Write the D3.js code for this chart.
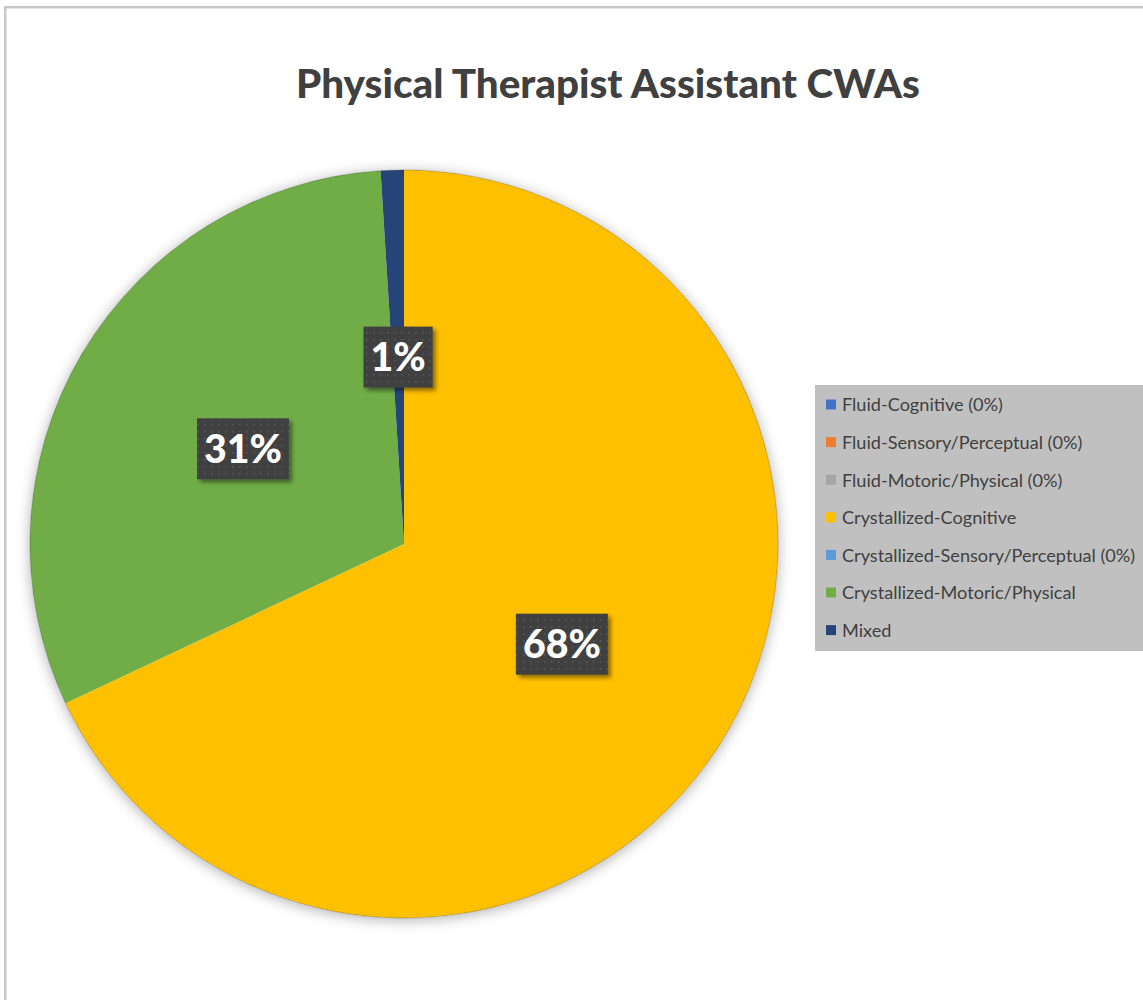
<!DOCTYPE html>
<html>
<head>
<meta charset="utf-8">
<script src="https://cdn.jsdelivr.net/npm/d3@7"></script>
<style>
  html, body { margin: 0; padding: 0; background: #fff; }
  svg { display: block; }
</style>
</head>
<body>
<svg id="chart" width="1143" height="1000"></svg>
<script>
// Cognitive work activity categories, in series order
const categories = [
  "Fluid-Cognitive",
  "Fluid-Sensory/Perceptual",
  "Fluid-Motoric/Physical",
  "Crystallized-Cognitive",
  "Crystallized-Sensory/Perceptual",
  "Crystallized-Motoric/Physical",
  "Mixed"
];
// Share of CWAs per category (percent)
const shares = [0, 0, 0, 68, 0, 31, 1];
// Legend entries (zero categories carry their value in the name)
const legendLabels = [
  "Fluid-Cognitive (0%)",
  "Fluid-Sensory/Perceptual (0%)",
  "Fluid-Motoric/Physical (0%)",
  "Crystallized-Cognitive",
  "Crystallized-Sensory/Perceptual (0%)",
  "Crystallized-Motoric/Physical",
  "Mixed"
];
const sliceColors = ["#4472C4", "#ED7D31", "#A5A5A5", "#FFC000", "#5B9BD5", "#70AD47", "#264478"];
const chartTitle = "Physical Therapist Assistant CWAs";

const svg = d3.select("#chart");
const W = 1143, H = 1000;
const FONT = "Lato, 'Open Sans', sans-serif";

// Defs: shadows and dotted label fill
const defs = svg.append("defs");
const pieShadow = defs.append("filter").attr("id", "pieShadow")
  .attr("x", "-10%").attr("y", "-10%").attr("width", "120%").attr("height", "120%");
pieShadow.append("feDropShadow").attr("dx", 0).attr("dy", 2)
  .attr("stdDeviation", 7).attr("flood-color", "#000").attr("flood-opacity", 0.32);

const labelShadow = defs.append("filter").attr("id", "labelShadow")
  .attr("x", "-20%").attr("y", "-20%").attr("width", "150%").attr("height", "150%");
labelShadow.append("feDropShadow").attr("dx", 3).attr("dy", 3)
  .attr("stdDeviation", 2).attr("flood-color", "#000").attr("flood-opacity", 0.45);

const dots = defs.append("pattern").attr("id", "dots")
  .attr("width", 7).attr("height", 7).attr("patternUnits", "userSpaceOnUse");
dots.append("rect").attr("width", 7).attr("height", 7).attr("fill", "#404040");
dots.append("rect").attr("x", 3).attr("y", 3).attr("width", 1.6).attr("height", 1.6).attr("fill", "#5a5a5a");

// Chart area frame
svg.append("rect")
  .attr("x", 5.2).attr("y", 7.2).attr("width", W + 20).attr("height", H + 20)
  .attr("fill", "#fff").attr("stroke", "#c6c6c6").attr("stroke-width", 2.5);

// Title, sized to its measured width
const title = svg.append("text")
  .attr("x", 608).attr("y", 98)
  .attr("text-anchor", "middle")
  .attr("font-family", FONT).attr("font-weight", 900)
  .attr("fill", "#404040")
  .attr("font-size", 40)
  .text(chartTitle);
{
  const w = title.node().getComputedTextLength();
  title.attr("font-size", 40 * 624 / w);
}

// Pie
const cx = 404, cy = 544, R = 374;
const data = categories.map((c, i) => ({ name: c, value: shares[i], color: sliceColors[i] }));
const pie = d3.pie().value(d => d.value).sort(null);
const arcs = pie(data);
const arc = d3.arc().innerRadius(0).outerRadius(R);

const g = svg.append("g").attr("transform", `translate(${cx},${cy})`);
g.append("circle").attr("r", R).attr("fill", "#fff").attr("filter", "url(#pieShadow)");
g.selectAll("path.slice")
  .data(arcs.filter(a => a.data.value > 0))
  .join("path")
  .attr("class", "slice")
  .attr("d", arc)
  .attr("fill", d => d.data.color);
g.append("circle").attr("r", R).attr("fill", "none")
  .attr("stroke", "rgba(0,0,0,0.22)").attr("stroke-width", 1);

// Data labels on dark dotted boxes at slice centroids
const labelSize = (() => {
  const t = svg.append("text").attr("font-family", FONT).attr("font-weight", 900)
    .attr("font-size", 40).text("68%");
  const w = t.node().getComputedTextLength();
  t.remove();
  return 40 * 78 / w;
})();

const labels = g.selectAll("g.lbl")
  .data(arcs.filter(a => a.data.value > 0))
  .join("g")
  .attr("class", "lbl")
  .attr("transform", d => `translate(${arc.centroid(d)})`);

labels.each(function(d) {
  const sel = d3.select(this);
  const txt = sel.append("text")
    .attr("text-anchor", "middle")
    .attr("dy", "0.36em")
    .attr("font-family", FONT).attr("font-weight", 900)
    .attr("font-size", labelSize)
    .attr("fill", "#fff")
    .text(d.data.value + "%");
  const tw = txt.node().getComputedTextLength();
  const bw = tw + 14, bh = 61;
  sel.insert("rect", "text")
    .attr("x", -bw / 2).attr("y", -bh / 2)
    .attr("width", bw).attr("height", bh)
    .attr("fill", "url(#dots)")
    .attr("filter", "url(#labelShadow)");
});

// Legend
const lg = svg.append("g").attr("transform", "translate(815,385)");
lg.append("rect").attr("width", 340).attr("height", 266).attr("fill", "#c0c0c0");

const legendSize = (() => {
  const t = svg.append("text").attr("font-family", FONT).attr("font-size", 15).text(legendLabels[0]);
  const w = t.node().getComputedTextLength();
  t.remove();
  return 15 * 161 / w;
})();

const rows = lg.selectAll("g.row")
  .data(legendLabels)
  .join("g")
  .attr("class", "row")
  .attr("transform", (d, i) => `translate(0,${20 + i * 37.6})`);
rows.append("rect")
  .attr("x", 11).attr("y", -5.5).attr("width", 10).attr("height", 10)
  .attr("fill", (d, i) => sliceColors[i]);
rows.append("text")
  .attr("x", 27).attr("dy", "0.35em")
  .attr("font-family", FONT).attr("font-size", legendSize)
  .attr("fill", "#404040")
  .text(d => d);
</script>
</body>
</html>
